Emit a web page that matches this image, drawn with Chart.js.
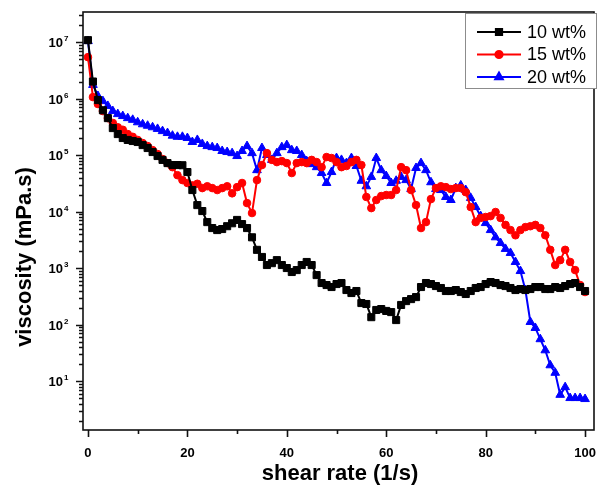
<!DOCTYPE html>
<html>
<head>
<meta charset="utf-8">
<title>viscosity vs shear rate</title>
<script src="https://cdn.jsdelivr.net/npm/chart.js@4/dist/chart.umd.min.js"></script>
<style>
  body { margin: 0; background: #fff; }
  #wrap { width: 600px; height: 491px; }
</style>
</head>
<body>
<div id="wrap"><canvas id="my-chart" width="600" height="491"></canvas></div>
<script>
'use strict';

// DATA

let shearRate = [
  0, 1, 2, 3, 4, 5, 6, 7, 8, 9,
  10, 11, 12, 13, 14, 15, 16, 17, 18, 19,
  20, 21, 22, 23, 24, 25, 26, 27, 28, 29,
  30, 31, 32, 33, 34, 35, 36, 37, 38, 39,
  40, 41, 42, 43, 44, 45, 46, 47, 48, 49,
  50, 51, 52, 53, 54, 55, 56, 57, 58, 59,
  60, 61, 62, 63, 64, 65, 66, 67, 68, 69,
  70, 71, 72, 73, 74, 75, 76, 77, 78, 79,
  80, 81, 82, 83, 84, 85, 86, 87, 88, 89,
  90, 91, 92, 93, 94, 95, 96, 97, 98, 99,
  100
];

// viscosity in mPa.s
let visc10 = [
  1.08e7, 2.0e6, 9.4e5, 6.2e5, 4.5e5, 3.0e5, 2.35e5, 2.0e5, 1.85e5, 1.77e5,
  1.7e5, 1.5e5, 1.33e5, 1.13e5, 9.6e4, 8.2e4, 7.2e4, 6.65e4, 6.65e4, 6.6e4,
  5.0e4, 2.4e4, 1.3e4, 1.02e4, 6.5e3, 5.1e3, 4.7e3, 4.9e3, 5.5e3, 6.2e3,
  7.1e3, 6.0e3, 5.1e3, 3.5e3, 2.1e3, 1.57e3, 1.13e3, 1.22e3, 1.38e3, 1.13e3,
  1.0e3, 850, 920, 1.13e3, 1.28e3, 1.13e3, 750, 543, 500, 461,
  521, 543, 408, 361, 392, 240, 231, 135, 181, 188,
  174, 166, 120, 222, 260, 282, 306, 461, 543, 521,
  480, 443, 392, 392, 408, 376, 347, 392, 443, 461,
  521, 565, 543, 500, 480, 443, 408, 425, 408, 425,
  461, 461, 425, 425, 461, 443, 480, 521, 543, 461,
  392
];

let visc15 = [
  5.4e6, 1.06e6, 8.0e5, 6.0e5, 4.5e5, 3.7e5, 3.1e5, 2.8e5, 2.35e5, 2.1e5,
  1.85e5, 1.63e5, 1.44e5, 1.22e5, 1.04e5, 8.5e4, 7.2e4, 6.1e4, 4.4e4, 3.6e4,
  3.2e4, 2.9e4, 3.1e4, 2.6e4, 2.8e4, 2.6e4, 2.4e4, 2.6e4, 2.8e4, 2.1e4,
  2.7e4, 3.2e4, 1.41e4, 9.4e3, 3.6e4, 6.65e4, 1.08e5, 8.2e4, 7.5e4, 7.8e4,
  7.2e4, 4.8e4, 7.2e4, 7.5e4, 7.2e4, 8.2e4, 7.5e4, 6.1e4, 9.2e4, 8.85e4,
  7.5e4, 6.1e4, 6.4e4, 7.5e4, 8.2e4, 6.65e4, 1.81e4, 1.15e4, 1.6e4, 1.88e4,
  1.96e4, 1.96e4, 2.4e4, 6.1e4, 5.4e4, 2.4e4, 1.3e4, 5.1e3, 6.5e3, 1.66e4,
  2.6e4, 2.8e4, 2.7e4, 2.5e4, 2.6e4, 2.6e4, 2.2e4, 1.2e4, 6.5e3, 7.7e3,
  8.0e3, 8.3e3, 9.8e3, 7.7e3, 5.8e3, 4.7e3, 3.8e3, 4.7e3, 5.3e3, 5.5e3,
  5.8e3, 5.1e3, 3.8e3, 2.1e3, 1.13e3, 1.38e3, 2.1e3, 1.28e3, 920, 500,
  376
];

let visc20 = [
  1.04e7, 1.74e6, 1.11e6, 9.0e5, 7.4e5, 6.0e5, 5.3e5, 4.9e5, 4.5e5, 4.2e5,
  3.8e5, 3.5e5, 3.3e5, 3.1e5, 2.9e5, 2.65e5, 2.45e5, 2.2e5, 2.1e5, 2.1e5,
  2.0e5, 1.7e5, 1.85e5, 1.57e5, 1.44e5, 1.38e5, 1.33e5, 1.18e5, 1.13e5, 1.08e5,
  9.6e4, 1.18e5, 1.44e5, 1.08e5, 5.4e4, 1.33e5, 1.0e5, 8.2e4, 1.08e5, 1.38e5,
  1.5e5, 1.22e5, 1.18e5, 1.0e5, 7.8e4, 6.9e4, 6.1e4, 4.8e4, 3.2e4, 5.0e4,
  8.85e4, 8.2e4, 7.2e4, 8.85e4, 6.4e4, 3.5e4, 2.8e4, 4.1e4, 8.85e4, 5.4e4,
  4.25e4, 3.2e4, 3.5e4, 4.1e4, 3.6e4, 2.5e4, 5.9e4, 7.2e4, 5.4e4, 3.3e4,
  2.5e4, 2.4e4, 1.81e4, 1.6e4, 2.6e4, 2.9e4, 2.4e4, 1.74e4, 1.2e4, 8.3e3,
  6.25e3, 4.7e3, 3.5e3, 2.77e3, 2.18e3, 1.85e3, 1.28e3, 885, 408, 111,
  87, 55, 35, 19, 14, 5.7, 7.8, 5.0, 5.0, 5.0,
  4.8
];

let seriesNames = ['10 wt%', '15 wt%', '20 wt%'];
let seriesColors = ['#000000', '#ff0000', '#0000ff'];
let seriesMarkers = ['rect', 'circle', 'triangle'];

// TICKS

let xTickLabels = [0, 20, 40, 60, 80, 100];
let xMinorTicks = [10, 30, 50, 70, 90];
let yExponents = [1, 2, 3, 4, 5, 6, 7];

const FONT = '"Liberation Sans", Arial, sans-serif';

function toPoints(values) {
  let pts = [];
  for (let i = 0; i < values.length; i++) {
    pts.push({ x: shearRate[i], y: values[i] });
  }
  return pts;
}

function makeDataset(i, values) {
  return {
    label: seriesNames[i],
    data: toPoints(values),
    borderColor: seriesColors[i],
    backgroundColor: seriesColors[i],
    borderWidth: 2,
    pointStyle: seriesMarkers[i],
    pointRadius: seriesMarkers[i] === 'circle' ? 3.8 : 5,
    pointBorderWidth: 1,
    tension: 0
  };
}

// axes, frame and legend are painted by hand on top of the library scales
const axesPlugin = {
  id: 'axesPlugin',
  afterDatasetsDraw(chart) {
    let ctx = chart.ctx;
    let area = chart.chartArea;
    let xs = chart.scales.x;
    let ys = chart.scales.y;

    ctx.save();
    ctx.strokeStyle = '#111';
    ctx.fillStyle = '#000';
    ctx.lineWidth = 1.6;
    ctx.strokeRect(area.left, area.top, area.right - area.left, area.bottom - area.top);

    // x ticks
    ctx.beginPath();
    xTickLabels.forEach(v => {
      let px = Math.round(xs.getPixelForValue(v)) + 0.5;
      ctx.moveTo(px, area.bottom);
      ctx.lineTo(px, area.bottom + 7);
    });
    xMinorTicks.forEach(v => {
      let px = Math.round(xs.getPixelForValue(v)) + 0.5;
      ctx.moveTo(px, area.bottom);
      ctx.lineTo(px, area.bottom + 4);
    });
    ctx.stroke();

    ctx.font = 'bold 13px ' + FONT;
    ctx.textAlign = 'center';
    ctx.textBaseline = 'middle';
    xTickLabels.forEach(v => {
      ctx.fillText(String(v), xs.getPixelForValue(v), 453);
    });

    // y ticks (log decades plus minor 2..9)
    ctx.beginPath();
    for (let n = 0; n <= 7; n++) {
      for (let k = 1; k <= 9; k++) {
        let v = k * Math.pow(10, n);
        if (v < ys.min || v > ys.max) continue;
        let py = Math.round(ys.getPixelForValue(v)) + 0.5;
        let len = k === 1 ? 7 : 4;
        ctx.moveTo(area.left, py);
        ctx.lineTo(area.left - len, py);
      }
    }
    ctx.stroke();

    yExponents.forEach(e => {
      let py = ys.getPixelForValue(Math.pow(10, e));
      ctx.font = 'bold 13px ' + FONT;
      ctx.textAlign = 'right';
      ctx.textBaseline = 'alphabetic';
      ctx.fillText('10', 63, py + 5);
      ctx.font = 'bold 8px ' + FONT;
      ctx.textAlign = 'left';
      ctx.fillText(String(e), 64, py - 1);
    });

    // axis titles
    ctx.font = 'bold 22px ' + FONT;
    ctx.textAlign = 'center';
    ctx.textBaseline = 'middle';
    ctx.fillText('shear rate (1/s)', 340, 474);

    ctx.save();
    ctx.translate(25, 257);
    ctx.rotate(-Math.PI / 2);
    ctx.fillText('viscosity (mPa.s)', 0, 0);
    ctx.restore();

    // legend
    let lx = 465, ly = 13, lw = 131, lh = 75;
    ctx.fillStyle = '#fff';
    ctx.fillRect(lx, ly, lw, lh);
    ctx.strokeStyle = '#8c8c8c';
    ctx.lineWidth = 1;
    ctx.strokeRect(lx + 0.5, ly + 0.5, lw, lh);

    chart.data.datasets.forEach((ds, i) => {
      let rowY = 32 + i * 22.5;
      ctx.strokeStyle = ds.borderColor;
      ctx.lineWidth = 2;
      ctx.beginPath();
      ctx.moveTo(477, rowY);
      ctx.lineTo(521, rowY);
      ctx.stroke();
      ctx.fillStyle = ds.backgroundColor;
      Chart.helpers.drawPoint(ctx, {
        pointStyle: ds.pointStyle,
        radius: ds.pointStyle === 'circle' ? 3.6 : 4.4,
        borderWidth: 1,
        rotation: 0
      }, 499, rowY);
      ctx.fillStyle = '#000';
      ctx.font = '18px ' + FONT;
      ctx.textAlign = 'left';
      ctx.textBaseline = 'middle';
      ctx.fillText(ds.label, 527, rowY + 1);
    });

    ctx.restore();
  }
};

let ctx = document.getElementById('my-chart').getContext('2d');

let chartObj = {
  type: 'line',
  data: {
    datasets: [
      makeDataset(0, visc10),
      makeDataset(1, visc15),
      makeDataset(2, visc20)
    ]
  },
  options: {
    responsive: false,
    devicePixelRatio: 1,
    animation: false,
    events: [],
    layout: {
      padding: { left: 83, top: 12, right: 3, bottom: 61 }
    },
    plugins: {
      legend: { display: false },
      tooltip: { enabled: false }
    },
    scales: {
      x: {
        type: 'linear',
        min: -1,
        max: 101.8,
        display: false
      },
      y: {
        type: 'logarithmic',
        min: 1.36,
        max: 3.4e7,
        display: false
      }
    }
  },
  plugins: [axesPlugin]
};

new Chart(ctx, chartObj);
</script>
</body>
</html>
